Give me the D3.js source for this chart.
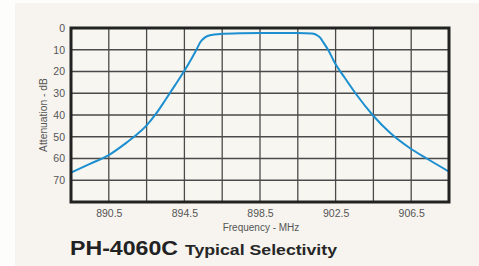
<!DOCTYPE html>
<html><head><meta charset="utf-8">
<script src="https://cdn.jsdelivr.net/npm/d3@7"></script>
<style>html,body{margin:0;padding:0;background:#fff;}svg{display:block;}</style>
</head><body>
<script>
const freqMHz = [888.5, 889.5, 890.5, 891.5, 892.0, 892.5, 893.0, 893.5, 894.0, 894.5, 894.89, 895.15, 895.33, 895.59, 895.94, 896.38, 897.5, 898.5, 899.5, 900.5, 901.24, 901.45, 901.67, 901.85, 902.11, 902.47, 903.0, 903.62, 904.46, 905.38, 906.44, 907.32, 908.5];
const attenDB = [66.5, 62.5, 58.4, 52.3, 48.9, 44.8, 39.4, 33.0, 26.4, 19.7, 13.9, 9.8, 6.7, 4.3, 3.2, 2.8, 2.4, 2.3, 2.3, 2.3, 2.5, 3.0, 4.3, 6.6, 10.1, 16.2, 23.1, 30.8, 40.0, 48.2, 55.3, 60.0, 66.0];
const xTickLabels = [890.5, 894.5, 898.5, 902.5, 906.5];
const xGrid = [888.5, 890.5, 892.5, 894.5, 896.5, 898.5, 900.5, 902.5, 904.5, 906.5, 908.5];
const yTickLabels = [0, 10, 20, 30, 40, 50, 60, 70];
const yGrid = [0, 10, 20, 30, 40, 50, 60, 70, 80];
const xTitle = "Frequency - MHz";
const yTitle = "Attenuation - dB";
const titleMain = "PH-4060C";
const titleSub = "Typical Selectivity";

const W = 479, H = 266;
const L = 71, R = 449, T = 28, B = 202;
const svg = d3.select("body").append("svg").attr("width", W).attr("height", H);
svg.append("rect").attr("x", 0).attr("y", 0).attr("width", W).attr("height", H).attr("fill", "#fdfdfc");
svg.append("rect").attr("x", 15).attr("y", 3).attr("width", W - 15).attr("height", H - 3).attr("fill", "#f7f4ef");

const x = d3.scaleLinear().domain([888.5, 908.5]).range([L, R]);
const y = d3.scaleLinear().domain([0, 80]).range([T, B]);

svg.append("rect").attr("x", L).attr("y", T).attr("width", R - L).attr("height", B - T).attr("fill", "#f8f6f1");

const g = svg.append("g");
g.selectAll("line.v").data(xGrid).join("line")
  .attr("x1", d => x(d)).attr("x2", d => x(d)).attr("y1", T).attr("y2", B)
  .attr("stroke", "#4a4a4a").attr("stroke-width", 1.3);
g.selectAll("line.h").data(yGrid).join("line")
  .attr("y1", d => y(d)).attr("y2", d => y(d)).attr("x1", L).attr("x2", R)
  .attr("stroke", "#4a4a4a").attr("stroke-width", 1.3);

svg.append("clipPath").attr("id", "clip").append("rect")
  .attr("x", L).attr("y", T).attr("width", R - L).attr("height", B - T);

const line = d3.line().x((d, i) => x(freqMHz[i])).y(d => y(d)).curve(d3.curveMonotoneX);
svg.append("path").datum(attenDB).attr("d", line).attr("fill", "none")
  .attr("stroke", "#1b8fd0").attr("stroke-width", 2).attr("clip-path", "url(#clip)");

svg.append("rect").attr("x", L).attr("y", T).attr("width", R - L).attr("height", B - T)
  .attr("fill", "none").attr("stroke", "#222").attr("stroke-width", 3);

const font = "Liberation Sans, Arial, Helvetica, sans-serif";
const yAxis = d3.axisLeft(y).tickValues(yTickLabels).tickSize(0).tickPadding(5).tickFormat(d3.format("d"));
const ya = svg.append("g").attr("transform", `translate(${L - 1},0)`).call(yAxis);
ya.select(".domain").remove();
ya.selectAll("text").attr("font-family", font).attr("font-size", 10.5).attr("fill", "#555");

const xAxis = d3.axisBottom(x).tickValues(xTickLabels).tickSize(0).tickPadding(7).tickFormat(d3.format(".1f"));
const xa = svg.append("g").attr("transform", `translate(0,${B + 1})`).call(xAxis);
xa.select(".domain").remove();
xa.selectAll("text").attr("font-family", font).attr("font-size", 10.5).attr("fill", "#555");

svg.append("text").attr("x", 261).attr("y", 231).attr("text-anchor", "middle")
  .attr("font-family", font).attr("font-size", 10).attr("fill", "#555").text(xTitle);
svg.append("text").attr("transform", "translate(47,115) rotate(-90)").attr("text-anchor", "middle")
  .attr("font-family", font).attr("font-size", 10.3).attr("fill", "#555").text(yTitle);

svg.append("text").attr("x", 70).attr("y", 255).attr("font-family", font).attr("font-weight", "bold")
  .attr("font-size", 19.5).attr("fill", "#222").attr("textLength", 108).attr("lengthAdjust", "spacingAndGlyphs").text(titleMain);
svg.append("text").attr("x", 185).attr("y", 255).attr("font-family", font).attr("font-weight", "bold")
  .attr("font-size", 14.5).attr("fill", "#262626").attr("textLength", 152).attr("lengthAdjust", "spacingAndGlyphs").text(titleSub);
</script>
</body></html>
